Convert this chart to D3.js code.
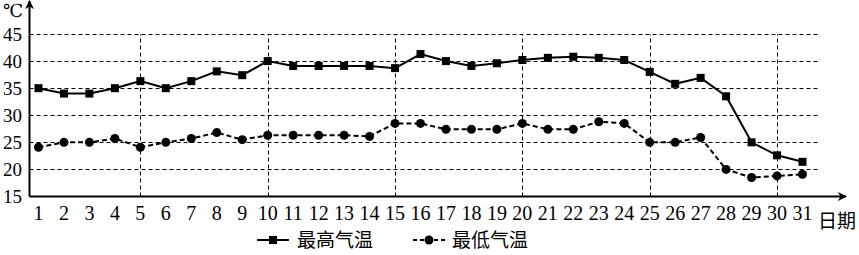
<!DOCTYPE html>
<html>
<head>
<meta charset="utf-8">
<script src="https://cdn.jsdelivr.net/npm/d3@7"></script>
<style>
  body { margin: 0; background: #fff; }
  svg { display: block; }
</style>
</head>
<body>
<script>
// data
var days = d3.range(1, 32);
var highTemp = [35, 34, 34, 35, 36.3, 35, 36.3, 38.1, 37.4, 40,
  39.1, 39.1, 39.1, 39.1, 38.7, 41.3, 40, 39.1, 39.6, 40.2,
  40.6, 40.8, 40.6, 40.2, 38, 35.8, 36.9, 33.5, 25, 22.6, 21.4];
var lowTemp = [24.1, 25, 25, 25.7, 24.1, 25, 25.7, 26.8, 25.5, 26.3,
  26.3, 26.3, 26.3, 26.1, 28.5, 28.5, 27.4, 27.4, 27.4, 28.5,
  27.4, 27.4, 28.8, 28.5, 25, 25, 25.9, 20, 18.5, 18.8, 19.1];
var yTicks = [15, 20, 25, 30, 35, 40, 45];
var vGridDays = [5, 10, 15, 20, 25, 30];
var legendNames = ["最高气温", "最低气温"];

var width = 859, height = 255;
var axisX = 29.5, axisY = 196.5;
var serif = "'Liberation Serif', 'DejaVu Serif', serif";
var cjk = "'Noto Sans CJK SC', sans-serif";

var svg = d3.select("body").append("svg")
  .attr("width", width)
  .attr("height", height);

var x = d3.scaleLinear().domain([1, 31]).range([38.5, 802.5]);
var y = d3.scaleLinear().domain([15, 45]).range([axisY, 34]);

// horizontal grid
svg.append("g").selectAll("line")
  .data(yTicks.slice(1))
  .join("line")
  .attr("x1", axisX).attr("x2", 820)
  .attr("y1", d => Math.round(y(d)) + 0.5)
  .attr("y2", d => Math.round(y(d)) + 0.5)
  .attr("stroke", "#000").attr("stroke-width", 1)
  .attr("stroke-dasharray", "4,3");

// vertical grid
svg.append("g").selectAll("line")
  .data(vGridDays)
  .join("line")
  .attr("x1", d => Math.round(x(d)) + 0.5)
  .attr("x2", d => Math.round(x(d)) + 0.5)
  .attr("y1", axisY).attr("y2", Math.round(y(45)) + 0.5)
  .attr("stroke", "#000").attr("stroke-width", 1)
  .attr("stroke-dasharray", "4,3");

// axes with arrows
svg.append("defs").append("marker")
  .attr("id", "arrow")
  .attr("viewBox", "0 0 10 10")
  .attr("refX", 9).attr("refY", 5)
  .attr("markerWidth", 9).attr("markerHeight", 9)
  .attr("markerUnits", "userSpaceOnUse")
  .attr("orient", "auto")
  .append("path")
  .attr("d", "M0,0 L10,5 L0,10 L3,5 Z")
  .attr("fill", "#000");

svg.append("line")
  .attr("x1", axisX).attr("y1", axisY)
  .attr("x2", axisX).attr("y2", 1)
  .attr("stroke", "#000").attr("stroke-width", 2)
  .attr("marker-end", "url(#arrow)");

svg.append("line")
  .attr("x1", axisX).attr("y1", axisY)
  .attr("x2", 846).attr("y2", axisY)
  .attr("stroke", "#000").attr("stroke-width", 2)
  .attr("marker-end", "url(#arrow)");

// tick labels
svg.append("g").selectAll("text")
  .data(yTicks)
  .join("text")
  .attr("x", 22).attr("y", d => y(d) + 6.5)
  .attr("text-anchor", "end")
  .attr("font-family", serif).attr("font-size", 19)
  .text(d => d);

svg.append("g").selectAll("text")
  .data(days)
  .join("text")
  .attr("x", d => x(d)).attr("y", 220)
  .attr("text-anchor", "middle")
  .attr("font-family", serif).attr("font-size", 20)
  .text(d => d);

svg.append("text")
  .attr("x", 3).attr("y", 17)
  .attr("font-family", serif).attr("font-size", 18)
  .text("℃");

svg.append("text")
  .attr("x", 818).attr("y", 228)
  .attr("font-family", cjk).attr("font-size", 19)
  .text("日期");

// series
var line = d3.line()
  .x((d, i) => x(days[i]))
  .y(d => y(d));

svg.append("path")
  .attr("d", line(highTemp))
  .attr("fill", "none").attr("stroke", "#000").attr("stroke-width", 2);

svg.append("path")
  .attr("d", line(lowTemp))
  .attr("fill", "none").attr("stroke", "#000").attr("stroke-width", 2)
  .attr("stroke-dasharray", "5,3");

svg.append("g").selectAll("rect")
  .data(highTemp)
  .join("rect")
  .attr("x", (d, i) => x(days[i]) - 4)
  .attr("y", d => y(d) - 4)
  .attr("width", 8).attr("height", 8)
  .attr("fill", "#000");

svg.append("g").selectAll("circle")
  .data(lowTemp)
  .join("circle")
  .attr("cx", (d, i) => x(days[i]))
  .attr("cy", d => y(d))
  .attr("r", 4.5)
  .attr("fill", "#000");

// legend
var legY = 240;
svg.append("line")
  .attr("x1", 257).attr("x2", 289)
  .attr("y1", legY).attr("y2", legY)
  .attr("stroke", "#000").attr("stroke-width", 2);
svg.append("rect")
  .attr("x", 269).attr("y", legY - 4)
  .attr("width", 8).attr("height", 8)
  .attr("fill", "#000");
svg.append("text")
  .attr("x", 297).attr("y", legY + 7)
  .attr("font-family", cjk).attr("font-size", 19)
  .text(legendNames[0]);

svg.append("line")
  .attr("x1", 413).attr("x2", 445)
  .attr("y1", legY).attr("y2", legY)
  .attr("stroke", "#000").attr("stroke-width", 2)
  .attr("stroke-dasharray", "4,3");
svg.append("circle")
  .attr("cx", 429).attr("cy", legY)
  .attr("r", 4.5)
  .attr("fill", "#000");
svg.append("text")
  .attr("x", 452).attr("y", legY + 7)
  .attr("font-family", cjk).attr("font-size", 19)
  .text(legendNames[1]);
</script>
</body>
</html>
